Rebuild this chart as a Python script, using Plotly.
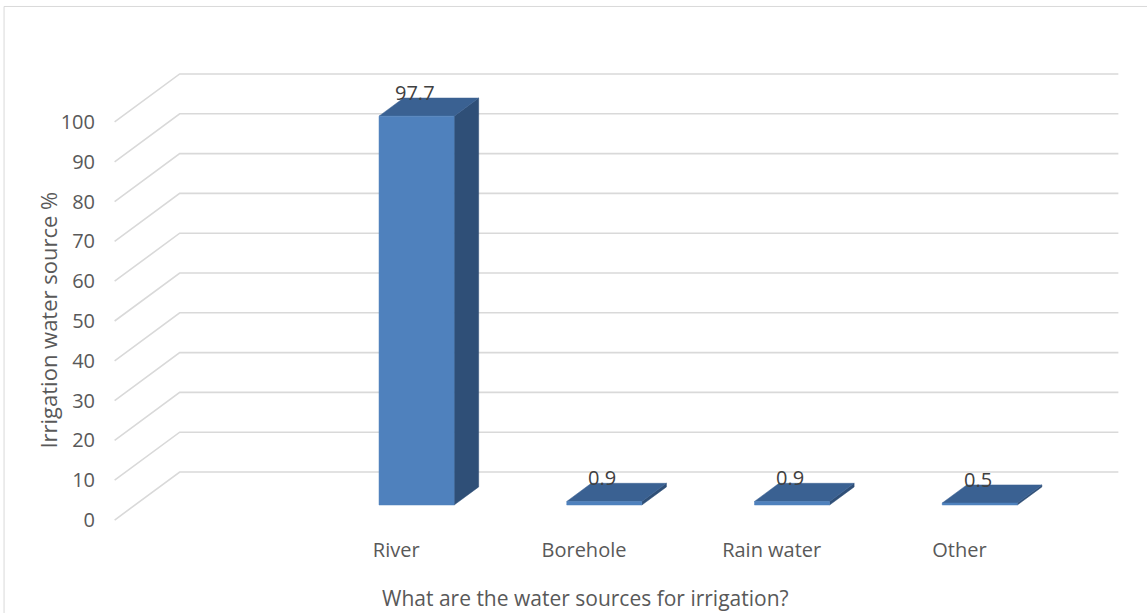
import plotly.graph_objects as go

# ---- data ----
categories = ["River", "Borehole", "Rain water", "Other"]
values = [97.7, 0.9, 0.9, 0.5]
y_ticks = [0, 10, 20, 30, 40, 50, 60, 70, 80, 90, 100]
x_title = "What are the water sources for irrigation?"
y_title = "Irrigation water source %"

# ---- styling / 3D geometry ----
W, H = 1147, 613
FRONT_LEFT_PX = 115.0
FRONT_ZERO_PX = 520.0
PX_PER_CAT = 187.6
PX_PER_VAL = 3.98
DX = 65.0 / PX_PER_CAT      # wall depth in category units
DY = 48.0 / PX_PER_VAL      # wall depth in value units
F0, F1 = 0.3125, 0.69       # bar depth (fraction of wall depth)
BAR_W = 0.4
XMIN_FRONT = -1.5           # one empty slot on the left
XMAX_FRONT = len(categories) - 0.5

C_FRONT = "#4F81BD"
C_TOP = "#3A6192"
C_SIDE = "#2F4F77"
C_GRID = "#D9D9D9"
C_TEXT = "#595959"
FONT = "Open Sans"
FS = 20

pad_x, pad_y = 0.03, 1.0
xlo, xhi = XMIN_FRONT - pad_x, XMAX_FRONT + DX + pad_x
ylo, yhi = -pad_y, max(y_ticks) + DY + pad_y
m_l = FRONT_LEFT_PX + (xlo - XMIN_FRONT) * PX_PER_CAT
m_r = W - (FRONT_LEFT_PX + (xhi - XMIN_FRONT) * PX_PER_CAT)
m_t = FRONT_ZERO_PX - yhi * PX_PER_VAL
m_b = H - (FRONT_ZERO_PX - ylo * PX_PER_VAL)
pw, ph = W - m_l - m_r, H - m_t - m_b


def px2paper(px, py):
    return (px - m_l) / pw, 1 - (py - m_t) / ph


fig = go.Figure()

# gridlines: front-plane diagonal + back wall horizontal
gx, gy = [], []
for t in y_ticks:
    gx += [XMIN_FRONT, XMIN_FRONT + DX, XMAX_FRONT + DX, None]
    gy += [t, t + DY, t + DY, None]
fig.add_trace(go.Scatter(x=gx, y=gy, mode="lines",
                         line=dict(color=C_GRID, width=1.6),
                         hoverinfo="skip", showlegend=False))

# bars
d0x, d0y = F0 * DX, F0 * DY
ddx, ddy = (F1 - F0) * DX, (F1 - F0) * DY
for i, v in enumerate(values):
    xl = i + d0x - BAR_W / 2
    xr = i + d0x + BAR_W / 2
    yb = d0y
    yt = d0y + v
    # side face
    fig.add_trace(go.Scatter(
        x=[xr, xr + ddx, xr + ddx, xr, xr],
        y=[yb, yb + ddy, yt + ddy, yt, yb],
        fill="toself", fillcolor=C_SIDE, mode="lines",
        line=dict(color=C_SIDE, width=0.5), hoverinfo="skip", showlegend=False))
    # top face
    fig.add_trace(go.Scatter(
        x=[xl, xr, xr + ddx, xl + ddx, xl],
        y=[yt, yt, yt + ddy, yt + ddy, yt],
        fill="toself", fillcolor=C_TOP, mode="lines",
        line=dict(color=C_TOP, width=0.5), hoverinfo="skip", showlegend=False))
    # front face
    fig.add_trace(go.Scatter(
        x=[xl, xr, xr, xl, xl],
        y=[yb, yb, yt, yt, yb],
        fill="toself", fillcolor=C_FRONT, mode="lines",
        line=dict(color=C_FRONT, width=0.5), hoverinfo="skip", showlegend=False))

annotations = []
for i, v in enumerate(values):
    annotations.append(dict(
        x=i + d0x, y=d0y + v, xref="x", yref="y", text=f"{v}",
        showarrow=False, xanchor="center", yanchor="middle",
        yshift=24, xshift=-2, font=dict(family=FONT, size=FS, color="#404040")))

ax, ay = px2paper(586, 598)
annotations.append(dict(x=ax, y=ay, xref="paper", yref="paper", text=x_title,
                        showarrow=False, xanchor="center", yanchor="middle",
                        font=dict(family=FONT, size=21, color=C_TEXT)))
tx, ty = px2paper(48, 320)
annotations.append(dict(x=tx, y=ty, xref="paper", yref="paper", text=y_title,
                        showarrow=False, textangle=-90, xanchor="center",
                        yanchor="middle",
                        font=dict(family=FONT, size=22, color=C_TEXT)))

bx0, by1 = px2paper(4.5, 6.5)
bx1, by0 = px2paper(1150, 625)

fig.update_layout(
    width=W, height=H,
    margin=dict(l=m_l, r=m_r, t=m_t, b=m_b, pad=0),
    paper_bgcolor="white", plot_bgcolor="white",
    showlegend=False,
    font=dict(family=FONT, size=FS, color=C_TEXT),
    annotations=annotations,
    shapes=[dict(type="rect", xref="paper", yref="paper",
                 x0=bx0, x1=bx1, y0=by0, y1=by1,
                 line=dict(color=C_GRID, width=1), layer="below")],
    xaxis=dict(range=[xlo, xhi], showgrid=False, zeroline=False,
               showline=False, ticks="",
               tickvals=list(range(len(categories))), ticktext=categories,
               ticklabelstandoff=12,
               tickfont=dict(family=FONT, size=FS, color=C_TEXT)),
    yaxis=dict(range=[ylo, yhi], showgrid=False, zeroline=False,
               showline=False, ticks="", tickvals=y_ticks,
               ticklabelstandoff=13,
               tickfont=dict(family=FONT, size=FS, color=C_TEXT)),
)

fig.write_html("out.html")
